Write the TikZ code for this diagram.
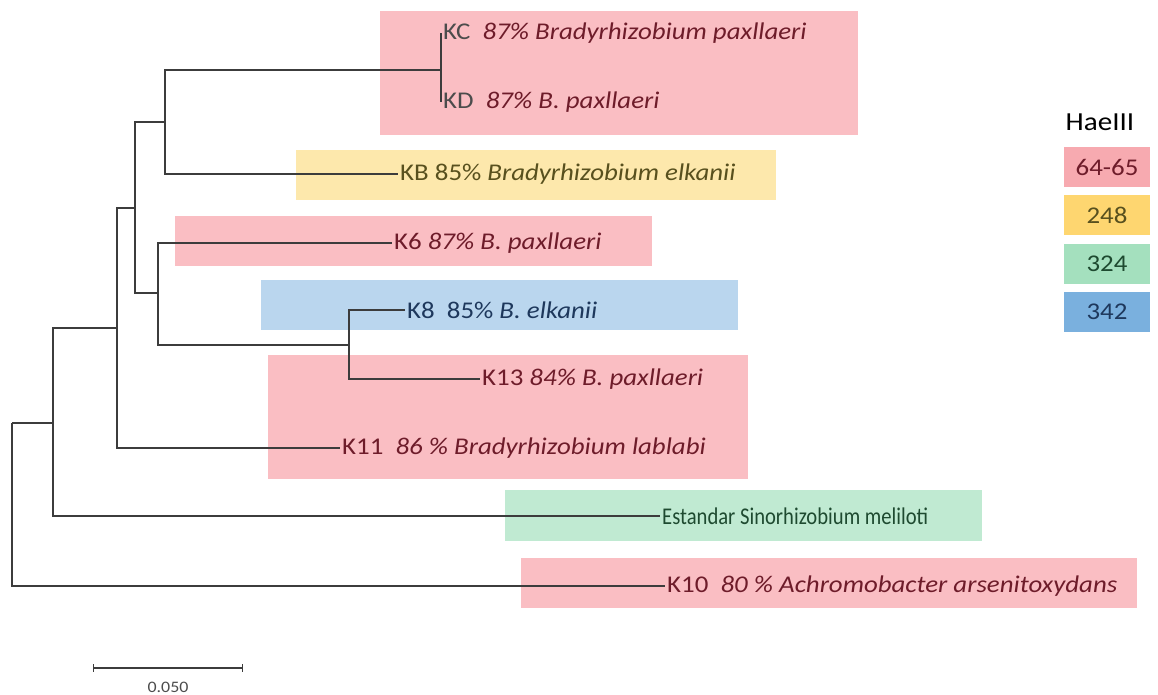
\documentclass[tikz,border=0pt]{standalone}
\usepackage{fontspec}
\setmainfont{Carlito}[FakeStretch=1.12]
\newfontfamily\narrowfont{Carlito}[FakeStretch=0.86]
\usetikzlibrary{positioning}

\definecolor{hlpink}{RGB}{250,190,195}
\definecolor{hlyellow}{RGB}{253,232,172}
\definecolor{hlgreen}{RGB}{192,234,210}
\definecolor{hlblue}{RGB}{186,214,238}
\definecolor{keypink}{RGB}{247,170,176}
\definecolor{keyyellow}{RGB}{254,214,112}
\definecolor{keygreen}{RGB}{164,224,190}
\definecolor{keyblue}{RGB}{122,176,222}
\definecolor{txtred}{RGB}{110,28,42}
\definecolor{txtolive}{RGB}{88,80,30}
\definecolor{txtblue}{RGB}{30,56,92}
\definecolor{txtgreen}{RGB}{30,74,48}
\definecolor{branch}{RGB}{60,60,60}

\begin{document}
\begin{tikzpicture}[x=1pt, y=-1pt,
    font=\fontsize{24}{28}\selectfont,
    leaf/.style={anchor=west, inner sep=2pt},
    elbow/.style={to path={|- (\tikztotarget)}},
    tree/.style={draw=branch, line width=1.1pt},
    key/.style={rectangle, minimum width=86pt, minimum height=40pt, inner sep=0pt}
    ]
    \useasboundingbox (0,0) rectangle (1158,695);

    % highlight bands
    \fill[hlpink]   (380,11)  rectangle (858,135);
    \fill[hlyellow] (296,150) rectangle (776,200);
    \fill[hlpink]   (175,216) rectangle (652,266);
    \fill[hlblue]   (261,280) rectangle (738,330);
    \fill[hlpink]   (268,355) rectangle (748,479);
    \fill[hlgreen]  (505,490) rectangle (982,541);
    \fill[hlpink]   (521,558) rectangle (1137,608);

    % inner nodes of the tree
    \coordinate (root) at (12,423);
    \coordinate (nA) at (53,423);
    \coordinate (nB) at (117,328);
    \coordinate (nC) at (135,208);
    \coordinate (nD) at (165,122);
    \coordinate (nE) at (441,70);
    \coordinate (nF) at (158,293);
    \coordinate (nG) at (349,345);

    % leaves
    \node[leaf, text=txtred]   (kc)  at (441,33)  {\textcolor{black!70}{KC}\ \ \textit{87\% Bradyrhizobium paxllaeri}};
    \node[leaf, text=txtred]   (kd)  at (441,102) {\textcolor{black!70}{KD}\ \ \textit{87\% B. paxllaeri}};
    \node[leaf, text=txtolive] (kb)  at (398,174) {KB 85\% \textit{Bradyrhizobium elkanii}};
    \node[leaf, text=txtred]   (k6)  at (392,243) {K6 \textit{87\% B. paxllaeri}};
    \node[leaf, text=txtblue]  (k8)  at (405,310) {K8\ \ 85\% \textit{B. elkanii}};
    \node[leaf, text=txtred]   (k13) at (480,379) {K13 \textit{84\% B. paxllaeri}};
    \node[leaf, text=txtred]   (k11) at (340,448) {K11\ \ \textit{86 \% Bradyrhizobium lablabi}};
    \node[leaf, text=txtgreen, font=\narrowfont\fontsize{24}{28}\selectfont] (est) at (660,516) {Estandar Sinorhizobium meliloti};
    \node[leaf, text=txtred]   (k10) at (665,586) {K10\ \ \textit{80 \% Achromobacter arsenitoxydans}};

    \path[tree]
    (root) edge[elbow] (nA)
    (root) edge[elbow] (k10.west)
    (nA) edge[elbow] (nB)
    (nA) edge[elbow] (est.west)
    (nB) edge[elbow] (nC)
    (nB) edge[elbow] (k11.west)
    (nC) edge[elbow] (nD)
    (nC) edge[elbow] (nF)
    (nD) edge[elbow] (nE)
    (nD) edge[elbow] (kb.west)
    (nE) edge[elbow] (kc.west)
    (nE) edge[elbow] (kd.west)
    (nF) edge[elbow] (k6.west)
    (nF) edge[elbow] (nG)
    (nG) edge[elbow] (k8.west)
    (nG) edge[elbow] (k13.west);

    % HaeIII key
    \node[font=\fontsize{26}{30}\selectfont] (hae) at (1100,122) {HaeIII};
    \node[key, fill=keypink, text=txtred]     (k64)  at (1107,167) {64-65};
    \node[key, fill=keyyellow, text=txtolive] (k248) [below=8pt of k64]  {248};
    \node[key, fill=keygreen, text=txtgreen]  (k324) [below=8pt of k248] {324};
    \node[key, fill=keyblue, text=txtblue]    (k342) [below=8pt of k324] {342};

    % scale bar
    \coordinate (sbl) at (93,668);
    \coordinate (sbr) at (243,668);
    \draw[tree, |-|] (sbl) -- (sbr);
    \node[font=\fontsize{16}{18}\selectfont, text=black!70] (sbtext) at (168,687) {0.050};
  \end{tikzpicture}
\end{document}
